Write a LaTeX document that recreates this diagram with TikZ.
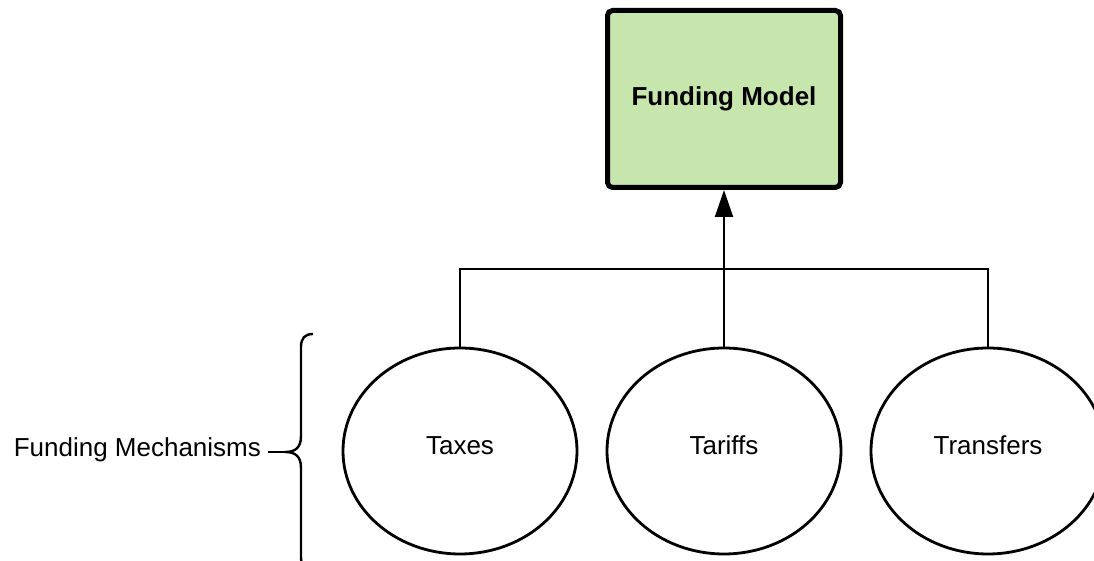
\documentclass[tikz,border=0pt]{standalone}
\usepackage{fontspec}
\setmainfont{Liberation Sans}
\usepackage{tikz}
\usetikzlibrary{arrows.meta,positioning,calc,shapes.geometric}
\definecolor{fmGreen}{HTML}{C7E6AE}

\begin{document}
\begin{tikzpicture}[x=0.5pt,y=-0.5pt,every node/.style={font=\fontsize{13}{15}\selectfont},
  model/.style={draw,line width=2.5pt,rounded corners=2.5pt,fill=fmGreen,minimum width=116.5pt,
    minimum height=88.5pt,font=\fontsize{13}{15}\selectfont\bfseries},
  mech/.style={draw,ellipse,line width=1.4pt,minimum width=117pt,minimum height=103pt,inner sep=0pt,
    text height=9.5pt,text depth=6pt},
  conn/.style={line width=1pt}]
  \clip (0,0) rectangle (1094,561);
  \node[model] (model) at (724,99) {Funding Model};
  \foreach \x/\nm/\txt in {460/tax/Taxes,724/tar/Tariffs,988/trf/Transfers}{
    \node[mech] (\nm) at (\x,451) {\txt};}
  \coordinate (bus) at (724,269);
  \draw[conn] (tax.north) |- (bus) -| (trf.north);
  \draw[conn,-{Triangle[length=13.5pt,width=9pt]}] (tar.north) -- (model.south);
  % curly brace round the three mechanisms
  \node[anchor=east] (mechlbl) at (268,450) {Funding Mechanisms};
  \coordinate (tip) at (285,452);
  \draw[conn,line width=1.2pt] (313,334) .. controls (305,334) and (301,338) .. (301,347) -- (301,436)
    .. controls (301,448) and (295,452) .. (tip)
    .. controls (295,452) and (301,456) .. (301,468) -- (301,557)
    .. controls (301,566) and (305,570) .. (313,570);
  \draw[conn,line width=1.2pt] (mechlbl.east |- tip) -- (tip);
\end{tikzpicture}
\end{document}
